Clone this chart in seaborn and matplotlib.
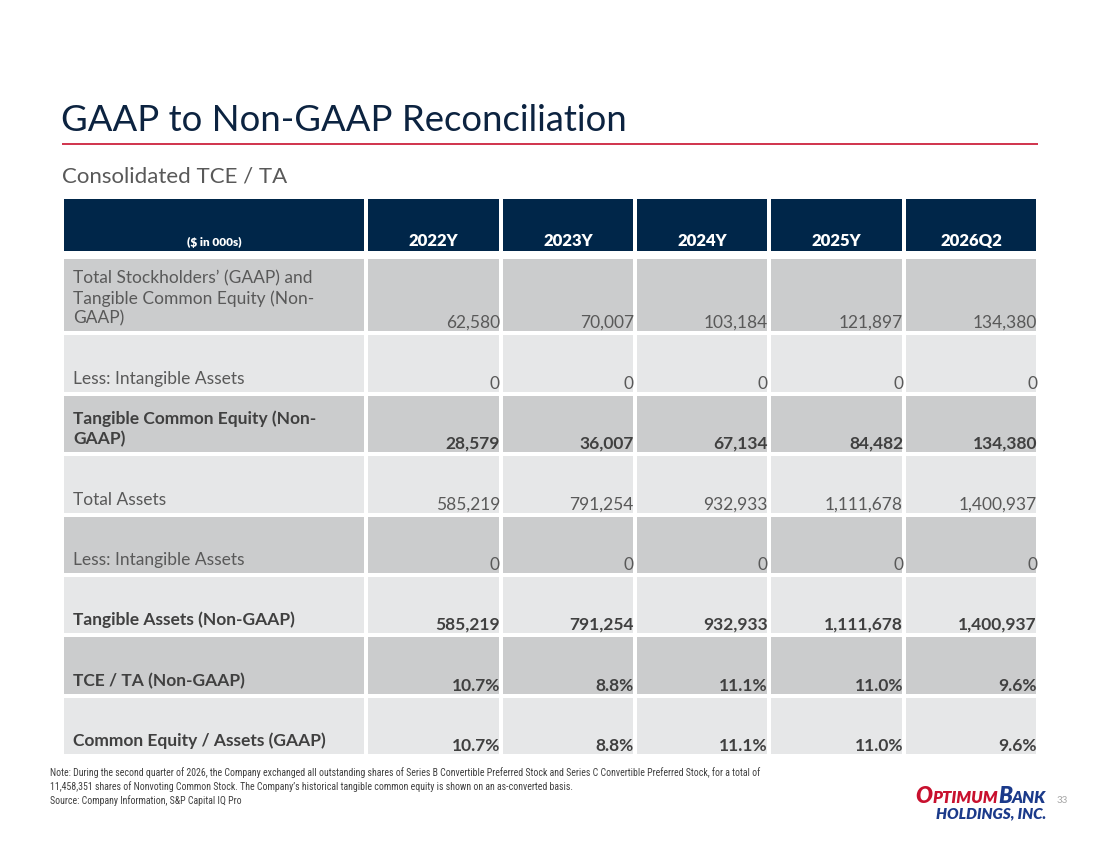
import numpy as np
import matplotlib
matplotlib.use("Agg")
import matplotlib.pyplot as plt
import seaborn as sns
from matplotlib import font_manager
from matplotlib.colors import ListedColormap
from matplotlib.offsetbox import TextArea, HPacker, VPacker, AnnotationBbox

# ---------------- data ----------------
periods = ["2022Y", "2023Y", "2024Y", "2025Y", "2026Q2"]
unit_label = "($ in 000s)"
row_labels = [
    "Total Stockholders\u2019 (GAAP) and\nTangible Common Equity (Non-\nGAAP)",
    "Less: Intangible Assets",
    "Tangible Common Equity (Non-\nGAAP)",
    "Total Assets",
    "Less: Intangible Assets",
    "Tangible Assets (Non-GAAP)",
    "TCE / TA (Non-GAAP)",
    "Common Equity / Assets (GAAP)",
]
bold_rows = [False, False, True, False, False, True, True, True]
pct_rows = [False, False, False, False, False, False, True, True]
total_equity = [62580, 70007, 103184, 121897, 134380]
intangibles_1 = [0, 0, 0, 0, 0]
tangible_common_equity = [28579, 36007, 67134, 84482, 134380]
total_assets = [585219, 791254, 932933, 1111678, 1400937]
intangibles_2 = [0, 0, 0, 0, 0]
tangible_assets = [585219, 791254, 932933, 1111678, 1400937]
tce_ta = [10.7, 8.8, 11.1, 11.0, 9.6]
ce_assets = [10.7, 8.8, 11.1, 11.0, 9.6]
values = [total_equity, intangibles_1, tangible_common_equity, total_assets,
          intangibles_2, tangible_assets, tce_ta, ce_assets]

title = "GAAP to Non-GAAP Reconciliation"
subtitle = "Consolidated TCE / TA"
footnote = ("Note: During the second quarter of 2026, the Company exchanged all outstanding shares of Series B Convertible Preferred Stock and Series C Convertible Preferred Stock, for a total of\n"
            "11,458,351 shares of Nonvoting Common Stock. The Company\u2019s historical tangible common equity is shown on an as-converted basis.\n"
            "Source: Company Information, S&P Capital IQ Pro")
page_no = "33"

# ---------------- style ----------------
sns.set_theme(style="white")


def pick(fams):
    for f in fams:
        try:
            font_manager.findfont(f, fallback_to_default=False)
            return f
        except Exception:
            continue
    return "DejaVu Sans"


MAIN = pick(["Lato", "Open Sans", "Noto Sans"])
NARROW = pick(["Liberation Sans Narrow", "Roboto Condensed", "DejaVu Sans"])
plt.rcParams["font.family"] = [MAIN, "DejaVu Sans"]

NAVY = "#002649"
DARK = "#cbcccd"
LIGHT = "#e6e7e8"
RED = "#c8102e"
TXT = "#595959"
TXTB = "#404040"
LOGO_BLUE = "#1b3a8a"

fig = plt.figure(figsize=(11, 8.49), dpi=100)
ax = fig.add_axes([0, 0, 1, 1])
ax.set_xlim(0, 1100)
ax.set_ylim(849, 0)
ax.axis("off")

# title / rule / subtitle
ax.text(61, 131, title, fontsize=26.3, fontweight="normal", color="#0c2340",
        va="baseline", ha="left")
ax.plot([62, 1038], [144, 144], color=RED, lw=1.2, solid_capstyle="butt")
ax.text(62, 182, subtitle, fontsize=16, color=TXT, va="baseline", ha="left")

# ---------------- table grid ----------------
col_edges = np.array([62, 366, 501, 635, 769, 904, 1038])
row_edges = np.array([197, 253, 257, 333, 394, 454, 515, 575, 635, 696, 756])
n_body = len(row_labels)
C = np.zeros((len(row_edges) - 1, len(col_edges) - 1))
C[0, :] = 0
C[1, :] = np.nan
for i in range(n_body):
    C[i + 2, :] = 1 if i % 2 == 0 else 2
Cm = np.ma.masked_invalid(C)
ax.pcolormesh(col_edges, row_edges, Cm, cmap=ListedColormap([NAVY, DARK, LIGHT]),
              vmin=-0.5, vmax=2.5, edgecolors="white", linewidth=1.5)

# header text
hdr_base = row_edges[1] - 7
ax.text((col_edges[0] + col_edges[1]) / 2, hdr_base, unit_label, fontsize=8.5,
        fontweight="heavy", color="white", ha="center", va="baseline")
for j, p in enumerate(periods):
    ax.text((col_edges[j + 1] + col_edges[j + 2]) / 2, hdr_base, p, fontsize=12,
            fontweight="heavy", color="white", ha="center", va="baseline")

# body text
for i, (lab, vals) in enumerate(zip(row_labels, values)):
    bottom = row_edges[i + 3]
    w = "bold" if bold_rows[i] else "normal"
    col = TXTB if bold_rows[i] else TXT
    ax.text(col_edges[0] + 11, bottom - 10, lab, fontsize=12.5, fontweight=w, color=col,
            ha="left", va="baseline", linespacing=1.25)
    for j, v in enumerate(vals):
        s = f"{v:.1f}%" if pct_rows[i] else f"{v:,.0f}"
        ax.text(col_edges[j + 2] - 1, bottom - 5, s, fontsize=12.5, fontweight=w, color=col,
                ha="right", va="baseline")

# footnote (va baseline on multi-line text anchors the last line)
ax.text(50, 804, footnote, fontsize=7.1, family=[NARROW, "DejaVu Sans"], color=TXTB,
        ha="left", va="baseline", linespacing=1.35)
ax.text(1062, 803, page_no, fontsize=7, color="#a6a6a6", ha="center", va="baseline")

# logo
lp = dict(family=[MAIN, "DejaVu Sans"], style="italic", fontweight="heavy")
big, small = 16, 12
line1 = HPacker(children=[
    TextArea("O", textprops=dict(color=RED, fontsize=big, **lp)),
    TextArea("PTIMUM", textprops=dict(color=RED, fontsize=small, **lp)),
    TextArea("B", textprops=dict(color=LOGO_BLUE, fontsize=big, **lp)),
    TextArea("ANK", textprops=dict(color=LOGO_BLUE, fontsize=small, **lp)),
], align="baseline", pad=0, sep=0)
line2 = TextArea("HOLDINGS, INC.", textprops=dict(color=LOGO_BLUE, fontsize=11, **lp))
logo = VPacker(children=[line1, line2], align="right", pad=0, sep=0)
ab = AnnotationBbox(logo, (1046, 820), xycoords="data", box_alignment=(1, 0),
                    frameon=False, pad=0)
ax.add_artist(ab)

fig.savefig("out.png", dpi=100)
